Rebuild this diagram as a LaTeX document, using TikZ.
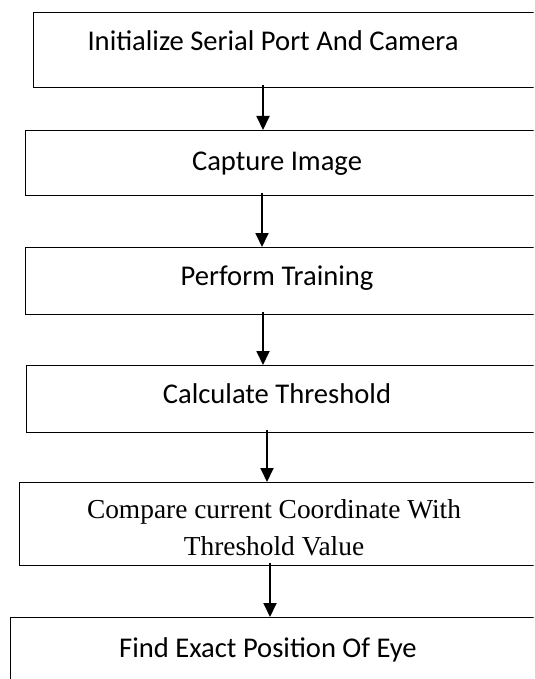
\documentclass[tikz,border=0pt]{standalone}
\usepackage{fontspec}
\setmainfont{Carlito}
\newfontfamily\serifface{Liberation Serif}
\usetikzlibrary{arrows.meta, positioning, calc}

\begin{document}
\begin{tikzpicture}[x=1bp, y=-1bp, thick]
        \tikzset{
            stepbox/.style={draw, line width=1.4bp, minimum width=700bp, anchor=north west, inner sep=0pt},
            steptext/.style={font=\fontsize{28.7}{37}\selectfont, align=center, inner sep=0pt, anchor=base},
            flow/.style={-{Triangle[width=13bp, length=14bp]}, line width=1.8bp}
        }
        \useasboundingbox (0,0) rectangle (535,679);
        \clip (0,0) rectangle (533.5,679);

        % --- BOXES ---
        \node[stepbox, minimum height=75bp] (init) at (33,12) {};
        \node[stepbox, minimum height=65bp] (capture) at (25,130) {};
        \node[stepbox, minimum height=67bp] (train) at (25,247) {};
        \node[stepbox, minimum height=67bp] (thresh) at (26,365) {};
        \node[stepbox, minimum height=83bp] (compare) at (19,482) {};
        \node[stepbox, minimum height=83bp] (eye) at (10,617) {};

        % --- LABELS ---
        \node[steptext] (initT) at (273,51) {Initialize Serial Port And Camera};
        \node[steptext] (captureT) at (277,170) {Capture Image};
        \node[steptext] (trainT) at (277,285) {Perform Training};
        \node[steptext] (threshT) at (277,403) {Calculate Threshold};
        \node[steptext, font=\serifface\fontsize{27.5}{37}\selectfont] (compareT) at (274,555) {Compare current Coordinate With\\Threshold Value};
        \node[steptext] (eyeT) at (268,657) {Find Exact Position Of Eye};

        % --- ARROWS ---
        \draw[flow] ($(init.south west)+(230,-3)$) -- ($(capture.north west)+(238,0)$);
        \draw[flow] ($(capture.south west)+(237,-3)$) -- ($(train.north west)+(237,0)$);
        \draw[flow] ($(train.south west)+(238,-3)$) -- ($(thresh.north west)+(237,0)$);
        \draw[flow] ($(thresh.south west)+(241,-3)$) -- ($(compare.north west)+(248,0)$);
        \draw[flow] ($(compare.south west)+(251,-3)$) -- ($(eye.north west)+(260,0)$);

    \end{tikzpicture}
\end{document}
